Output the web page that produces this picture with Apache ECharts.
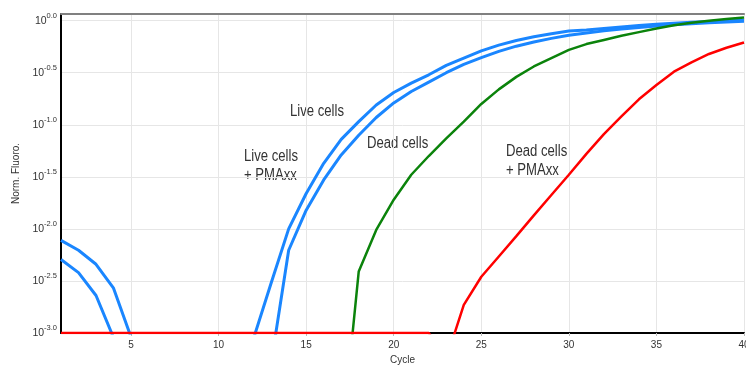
<!DOCTYPE html>
<html>
<head>
<meta charset="utf-8">
<script src="https://cdn.jsdelivr.net/npm/echarts@6/dist/echarts.min.js"></script>
<style>
  html, body { margin: 0; padding: 0; background: #fff; }
  #chart { width: 746px; height: 366px; }
</style>
</head>
<body>
<div id="chart"></div>
<script>
// cycles on the x axis
var cycles = [1,2,3,4,5,6,7,8,9,10,11,12,13,14,15,16,17,18,19,20,
              21,22,23,24,25,26,27,28,29,30,31,32,33,34,35,36,37,38,39,40];
// log10 of normalised fluorescence (null = not drawn)
var liveCells = [-2.11,-2.205,-2.34,-2.57,-3.04,null,null,null,null,null,
                 null,-3.05,-2.52,-2.0,-1.66,-1.37,-1.14,-0.97,-0.81,-0.69,
                 -0.60,-0.52,-0.43,-0.36,-0.29,-0.235,-0.19,-0.155,-0.125,-0.10,
                 -0.09,-0.075,-0.06,-0.047,-0.035,-0.025,-0.016,-0.008,-0.001,0.005];
var livePmaxx = [-2.294,-2.42,-2.64,-3.045,null,null,null,null,null,null,
                 null,null,-3.29,-2.205,-1.82,-1.53,-1.29,-1.10,-0.93,-0.79,
                 -0.68,-0.59,-0.50,-0.42,-0.355,-0.295,-0.245,-0.205,-0.17,-0.14,
                 -0.118,-0.098,-0.08,-0.065,-0.052,-0.04,-0.03,-0.021,-0.013,-0.006];
var deadCells = [null,null,null,null,null,null,null,null,null,null,
                 null,null,null,null,null,null,-4.1,-2.41,-2.01,-1.72,
                 -1.48,-1.3,-1.13,-0.97,-0.8,-0.66,-0.54,-0.44,-0.36,-0.28,
                 -0.225,-0.185,-0.145,-0.11,-0.075,-0.045,-0.02,0.0,0.015,0.03];
var deadPmaxx = [-3,-3,-3,-3,-3,-3,-3,-3,-3,-3,
                 -3,-3,-3,-3,-3,-3,-3,-3,-3,-3,
                 -3,-3,-3.25,-2.73,-2.46,-2.265,-2.07,-1.87,-1.675,-1.48,
                 -1.28,-1.09,-0.92,-0.755,-0.618,-0.49,-0.40,-0.32,-0.26,-0.21];
var xTicks = [5,10,15,20,25,30,35,40];

var font = "'Liberation Sans', Arial, sans-serif";

function pairs(vals) {
    return cycles.map(function (c, i) { return [c, vals[i]]; });
}

function line(name, vals, color, width) {
    return {
        name: name,
        type: 'line',
        data: pairs(vals),
        showSymbol: false,
        symbol: 'none',
        connectNulls: false,
        lineStyle: { color: color, width: width },
        itemStyle: { color: color },
        animation: false
    };
}

// annotation text, squeezed like the original picture
function note(x, y, txt) {
    return {
        type: 'text', x: x, y: y, scaleX: 0.82,
        style: { text: txt, font: '16px ' + font, fill: '#333', lineHeight: 19 }
    };
}

var myChart = echarts.init(document.getElementById('chart'));
var option = {
    animation: false,
    grid: { left: 61, right: 2, top: 14, bottom: 33, outerBoundsMode: 'none' },
    xAxis: [{
        type: 'value',
        min: 1,
        max: 40,
        name: 'Cycle',
        nameLocation: 'middle',
        nameGap: 20,
        nameTextStyle: { fontFamily: font, fontSize: 10, color: '#333' },
        axisLine: { onZero: false, lineStyle: { color: '#000', width: 2 } },
        axisTick: { show: true, length: 3, customValues: xTicks, lineStyle: { color: '#bbb' } },
        axisLabel: { customValues: xTicks, fontFamily: font, fontSize: 10, color: '#333', margin: 7 },
        splitLine: { show: true, lineStyle: { color: '#e6e6e6', width: 1 } }
    }, {
        // grey frame line along the top
        type: 'value',
        position: 'top',
        min: 1,
        max: 40,
        axisLine: { show: true, onZero: false, lineStyle: { color: '#808080', width: 2 } },
        axisTick: { show: false },
        axisLabel: { show: false },
        splitLine: { show: false }
    }],
    yAxis: {
        type: 'value',
        min: -3,
        max: 0.064,
        interval: 0.5,
        name: 'Norm. Fluoro.',
        nameLocation: 'middle',
        nameRotate: 90,
        nameGap: 38,
        nameTextStyle: { fontFamily: font, fontSize: 10, color: '#333' },
        axisLine: { show: true, onZero: false, lineStyle: { color: '#000', width: 2 } },
        axisTick: { show: false },
        axisLabel: {
            margin: 4,
            formatter: function (v) {
                if (Math.abs(v * 2 - Math.round(v * 2)) > 1e-6) return '';
                return '{b|10}{s|' + v.toFixed(1) + '}';
            },
            rich: {
                b: { fontFamily: font, fontSize: 10.5, color: '#333', lineHeight: 18 },
                s: { fontFamily: font, fontSize: 7.5, color: '#333', lineHeight: 8, verticalAlign: 'top' }
            }
        },
        splitLine: { show: true, lineStyle: { color: '#e6e6e6', width: 1 } }
    },
    series: [
        line('Live cells', liveCells, '#1a86ff', 3),
        line('Live cells + PMAxx', livePmaxx, '#1a86ff', 3),
        line('Dead cells', deadCells, '#0b830b', 2.5),
        line('Dead cells + PMAxx', deadPmaxx, '#ff0000', 2.5)
    ],
    graphic: [
        note(290, 102, 'Live cells'),
        note(244, 147, 'Live cells\n+ PMAxx'),
        note(367, 134, 'Dead cells'),
        note(506, 142, 'Dead cells\n+ PMAxx')
    ]
};
myChart.setOption(option);
</script>
</body>
</html>
